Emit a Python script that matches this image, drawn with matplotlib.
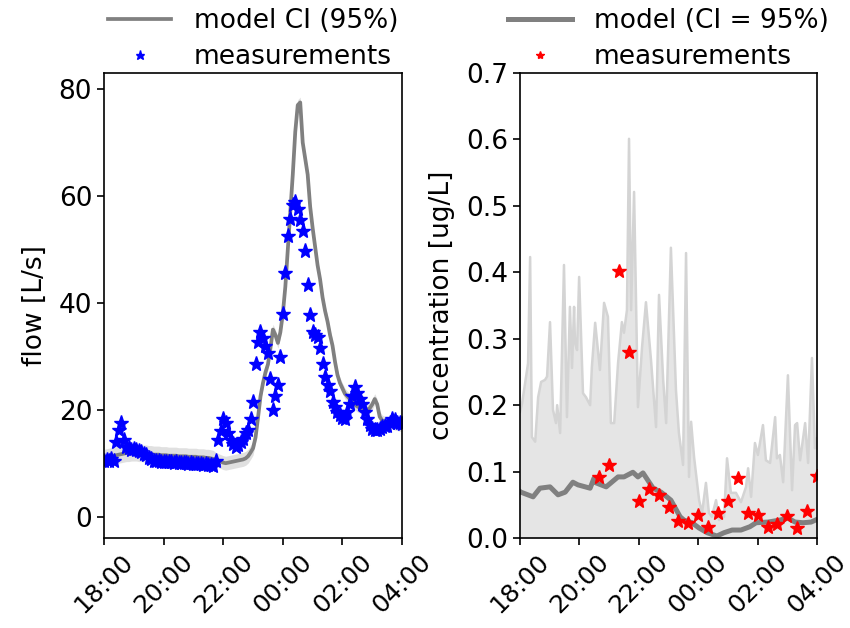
import numpy as np
import pandas as pd
import matplotlib
matplotlib.use('Agg')
import matplotlib.pyplot as plt
import matplotlib.dates as mdates

# ---- data ----
START = pd.Timestamp('2019-06-01 18:00')

# flow: model + measurements every 5 min (18:00 -> 04:00)
flow_model = [
    11.0, 11.1, 11.2, 11.3, 11.4, 11.5, 11.6, 11.7, 11.8, 11.9,
    11.9, 12.0, 12.0, 12.0, 11.9, 11.9, 11.8, 11.8, 11.7, 11.7,
    11.6, 11.6, 11.6, 11.5, 11.5, 11.5, 11.4, 11.4, 11.4, 11.4,
    11.3, 11.3, 11.3, 11.3, 11.2, 11.2, 11.2, 11.2, 11.1, 11.1,
    11.1, 11.0, 11.0, 10.9, 10.8,
    10.7, 10.5, 10.3, 10.1, 10.0, 10.1, 10.2, 10.3, 10.4, 10.5,
    10.6, 10.7, 10.9, 11.3, 12.0, 12.8, 14.8, 18.5, 22.5, 25.0,
    27.0, 28.5, 31.5, 35.0, 34.0, 32.5, 34.5, 38.0, 43.0, 50.0,
    57.0, 64.0, 72.0, 77.0, 77.5, 70.0, 67.0, 64.0, 58.0, 54.0,
    50.5, 47.0, 44.4, 41.0, 38.5, 36.5, 34.0, 32.0, 29.0, 26.5,
    25.0, 24.0, 23.0, 22.5, 22.0, 21.5, 21.0, 20.6, 20.4, 20.3,
    20.2, 20.0, 20.3, 21.0, 22.0, 21.0, 18.7, 18.0, 17.8, 17.7,
    17.6, 17.4, 17.2, 17.1, 17.0, 16.9,
]
flow_ci_half = [
    1.6, 1.6, 1.6, 1.6, 1.6, 1.6, 1.6, 1.6, 1.6, 1.6,
    1.6, 1.6, 1.6, 1.6, 1.6, 1.6, 1.6, 1.6, 1.6, 1.6,
    1.6, 1.6, 1.6, 1.6, 1.6, 1.6, 1.6, 1.6, 1.6, 1.6,
    1.6, 1.6, 1.6, 1.6, 1.6, 1.6, 1.6, 1.6, 1.6, 1.6,
    1.6, 1.6, 1.6, 1.6, 1.6,
    1.3, 1.3, 1.3, 1.3, 1.3, 1.3, 1.3, 1.3, 1.3, 1.3,
    1.3, 1.3, 1.3, 1.3, 1.3, 1.3, 1.0, 1.0, 1.0, 1.0,
    1.0, 1.0, 1.0, 1.0, 1.0, 1.0, 1.0, 1.0, 1.0, 1.0,
    1.0, 1.0, 1.0, 1.0, 1.0, 1.0, 1.0, 1.0, 1.0, 1.0,
    1.0, 1.0, 1.0, 1.0, 1.0, 1.0, 1.0, 1.0, 1.0, 1.0,
    1.0, 1.0, 1.0, 1.0, 1.0, 1.0, 1.0, 1.0, 1.0, 1.0,
    1.0, 1.0, 1.0, 1.0, 1.0, 1.0, 1.0, 1.0, 1.0, 1.0,
    1.0, 1.0, 1.0, 1.0, 1.0, 1.0,
]
flow_meas = [
    10.5, 10.6, 10.4, 10.7, 10.5, 13.9, 16.3, 17.6, 14.4, 13.1,
    12.8, 12.5, 12.6, 12.5, 12.3, 12.0, 11.8, 11.6, 11.0, 10.7,
    10.5, 10.4, 10.4, 10.3, 10.3, 10.2, 10.3, 10.2, 10.1, 10.2,
    10.1, 10.0, 10.1, 10.0, 9.9, 10.0, 9.9, 9.8, 9.9, 9.8,
    9.7, 9.8, 9.6, 9.7, 9.5,
    10.5, 14.4, 16.0, 18.2, 17.6, 15.7, 14.4, 13.6, 13.1, 13.4,
    13.9, 14.6, 15.7, 16.3, 18.2,
    21.5, 28.5, 32.6, 34.6, 33.5, 32.0, 30.7, 25.7, 20.0, 22.5,
    24.7, 29.8, 38.0,
    45.6, 52.5, 55.6, 58.4, 58.8, 57.5, 55.5, 53.4, 49.7, 43.4,
    37.7, 34.5, 34.0, 33.6, 31.5, 28.6, 26.2, 24.6, 23.5, 21.5,
    20.5, 19.6, 19.0, 18.4, 18.2, 19.5, 21.0, 22.5, 24.2, 23.2,
    22.0, 21.0, 19.5, 18.2, 17.2, 16.4, 16.3, 16.2, 16.4, 16.7,
    16.9, 17.0, 17.6, 18.2, 18.0, 17.5, 17.6, 17.3,
]

# concentration model (hours after 18:00, ug/L)
conc_model_h = [0.00, 0.03, 0.44, 0.67, 1.01, 1.28, 1.52, 1.78, 1.95, 2.36,
                2.49, 2.56, 2.90, 3.30, 3.50, 3.80, 3.97, 4.14, 4.48, 4.75,
                5.08, 5.39, 5.52, 5.79, 6.03, 6.30, 6.63, 6.87, 7.14, 7.44,
                7.74, 7.95, 8.35, 8.75, 9.02, 9.26, 9.53, 9.80, 10.00]
conc_model = [0.070, 0.069, 0.062, 0.075, 0.077, 0.065, 0.069, 0.084, 0.080, 0.075,
              0.090, 0.083, 0.077, 0.092, 0.092, 0.099, 0.092, 0.098, 0.075, 0.069,
              0.057, 0.032, 0.027, 0.023, 0.015, 0.008, 0.003, 0.008, 0.012, 0.012,
              0.017, 0.023, 0.024, 0.027, 0.030, 0.024, 0.023, 0.024, 0.028]

# upper bound of the 95% CI
conc_ci_h = [0.00, 0.07, 0.17, 0.27, 0.34, 0.40, 0.51, 0.61, 0.71, 0.84,
             0.91, 1.01, 1.11, 1.21, 1.25, 1.35, 1.48, 1.58, 1.68, 1.75,
             1.82, 1.85, 1.92, 1.99, 2.12, 2.22, 2.36, 2.42, 2.53, 2.69,
             2.83, 2.96, 3.06, 3.17, 3.30, 3.43, 3.50, 3.60, 3.67, 3.74,
             3.84, 3.97, 4.11, 4.24, 4.41, 4.58, 4.68, 4.82, 4.92, 5.08,
             5.25, 5.35, 5.49, 5.59, 5.69, 5.76, 5.86, 6.03, 6.13, 6.26,
             6.36, 6.46, 6.60, 6.70, 6.87, 6.97, 7.10, 7.27, 7.44, 7.61,
             7.68, 7.78, 7.91, 8.01, 8.18, 8.28, 8.42, 8.59, 8.65, 8.75,
             8.86, 9.02, 9.16, 9.26, 9.33, 9.43, 9.60, 9.70, 9.83, 9.93,
             10.00]
conc_ci_hi = [0.190, 0.203, 0.233, 0.263, 0.423, 0.152, 0.145, 0.212, 0.235, 0.238,
              0.243, 0.325, 0.193, 0.173, 0.200, 0.158, 0.411, 0.182, 0.348, 0.256,
              0.348, 0.294, 0.283, 0.393, 0.218, 0.212, 0.200, 0.258, 0.324, 0.253,
              0.354, 0.333, 0.173, 0.173, 0.263, 0.325, 0.309, 0.343, 0.601, 0.343,
              0.521, 0.197, 0.288, 0.355, 0.268, 0.167, 0.366, 0.238, 0.173, 0.437,
              0.223, 0.158, 0.110, 0.429, 0.092, 0.175, 0.122, 0.057, 0.038, 0.083,
              0.038, 0.032, 0.057, 0.027, 0.032, 0.120, 0.068, 0.068, 0.054, 0.077,
              0.105, 0.062, 0.143, 0.125, 0.170, 0.117, 0.113, 0.182, 0.120, 0.125,
              0.084, 0.245, 0.072, 0.170, 0.173, 0.117, 0.173, 0.113, 0.271, 0.135,
              0.150]

# concentration measurements every 20 min from 20:40
conc_meas = [0.092, 0.110, 0.402, 0.280, 0.056, 0.074, 0.065, 0.047, 0.026, 0.023,
             0.035, 0.017, 0.037, 0.056, 0.090, 0.037, 0.035, 0.017, 0.021, 0.033,
             0.015, 0.041, 0.093]

# ---- time axes ----
flow_t = pd.date_range(START, periods=len(flow_model), freq='5min')
model_t = START + pd.to_timedelta(conc_model_h, unit='h')
ci_t = START + pd.to_timedelta(conc_ci_h, unit='h')
meas_t = pd.date_range(START + pd.Timedelta(hours=2, minutes=40),
                       periods=len(conc_meas), freq='20min')
xticks = pd.date_range(START, periods=6, freq='2h')

flow_model = np.array(flow_model)
flow_ci_half = np.array(flow_ci_half)

plt.rcParams['font.size'] = 19
fig = plt.figure(figsize=(8.5, 6.28), dpi=100)
ax1 = fig.add_axes([0.1224, 0.1433, 0.3506, 0.7404])
ax2 = fig.add_axes([0.6118, 0.1433, 0.3494, 0.7404])

leg_kw = dict(loc='lower center', bbox_to_anchor=(0.5, 1.0), frameon=False,
              handlelength=2.4, handletextpad=0.85, labelspacing=0.4,
              markerscale=0.6, borderaxespad=0.0, borderpad=0.1)

# ── left: flow ──
ax1.fill_between(flow_t, flow_model - flow_ci_half, flow_model + flow_ci_half,
                 color='#d9d9d9', alpha=0.8, lw=0)
ax1.plot(flow_t, flow_model, color='grey', lw=2.7, label='model CI (95%)')
ax1.plot(flow_t, flow_meas, ls='none', marker='*', ms=11, color='blue',
         label='measurements')
ax1.set_ylim(-4, 83)
ax1.set_yticks([0, 20, 40, 60, 80])
ax1.set_ylabel('flow [L/s]', labelpad=8)
ax1.legend(**leg_kw)

# ── right: concentration ──
ax2.fill_between(ci_t, 0, conc_ci_hi, color='#e5e5e5', lw=0)
ax2.plot(ci_t, conc_ci_hi, color='#d4d4d4', lw=1.8)
ax2.plot(model_t, conc_model, color='grey', lw=3.6, label='model (CI = 95%)')
ax2.plot(meas_t, conc_meas, ls='none', marker='*', ms=10, color='red',
         label='measurements')
ax2.set_ylim(0, 0.7)
ax2.set_yticks(np.arange(0, 0.71, 0.1))
ax2.yaxis.set_major_formatter(plt.FuncFormatter(lambda v, _: f'{v:.1f}'))
ax2.set_ylabel('concentration [ug/L]', labelpad=8)
ax2.legend(**leg_kw)

for ax in (ax1, ax2):
    ax.set_xlim(xticks[0], xticks[-1])
    ax.set_xticks(xticks)
    ax.xaxis.set_major_formatter(mdates.DateFormatter('%H:%M'))
    ax.tick_params(axis='x', rotation=45, labelsize=18)
    ax.tick_params(width=1.2, length=5)
    for s in ax.spines.values():
        s.set_linewidth(1.2)

fig.savefig('out.png', dpi=100)
